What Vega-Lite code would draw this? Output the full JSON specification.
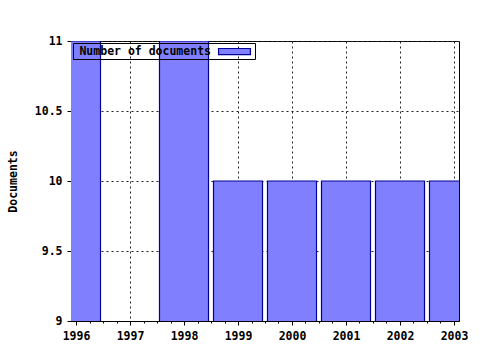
{
  "$schema": "https://vega.github.io/schema/vega-lite/v6.json",
  "width": 388,
  "height": 280,
  "autosize": {"type": "none"},
  "padding": {"left": 71, "top": 41, "right": 21, "bottom": 29},
  "background": "white",
  "data": {
    "values": [
      {"year": 1996, "documents": 11, "series": "Number of documents"},
      {"year": 1998, "documents": 11, "series": "Number of documents"},
      {"year": 1999, "documents": 10, "series": "Number of documents"},
      {"year": 2000, "documents": 10, "series": "Number of documents"},
      {"year": 2001, "documents": 10, "series": "Number of documents"},
      {"year": 2002, "documents": 10, "series": "Number of documents"},
      {"year": 2003, "documents": 10, "series": "Number of documents"}
    ]
  },
  "mark": {"type": "bar", "size": 49, "clip": true, "stroke": "#000099", "strokeWidth": 1.2, "fillOpacity": 1},
  "encoding": {
    "x": {
      "field": "year",
      "type": "quantitative",
      "scale": {"domain": [1996, 2003], "nice": false, "zero": false},
      "axis": {
        "values": [1996, 1996.25, 1996.5, 1996.75, 1997, 1997.25, 1997.5, 1997.75, 1998, 1998.25, 1998.5, 1998.75, 1999, 1999.25, 1999.5, 1999.75, 2000, 2000.25, 2000.5, 2000.75, 2001, 2001.25, 2001.5, 2001.75, 2002, 2002.25, 2002.5, 2002.75, 2003],
        "labelExpr": "datum.value % 1 === 0 ? format(datum.value, 'd') : ''",
        "tickSize": {"condition": {"test": "datum.value % 1 === 0", "value": 4}, "value": 2},
        "gridOpacity": {"condition": {"test": "datum.value % 1 === 0", "value": 1}, "value": 0},
        "labelFlush": false,
        "labelPadding": 5,
        "title": null
      }
    },
    "y": {
      "field": "documents",
      "type": "quantitative",
      "scale": {"domain": [9, 11], "nice": false, "zero": false},
      "axis": {"values": [9, 9.5, 10, 10.5, 11], "format": "~g", "labelFlush": false, "title": "Documents", "titlePadding": 16, "tickSize": 4, "labelPadding": 5}
    },
    "color": {
      "field": "series",
      "type": "nominal",
      "scale": {"range": ["#8080ff"]},
      "legend": {
        "title": null,
        "orient": "none",
        "legendX": 2,
        "legendY": 2,
        "strokeColor": "black",
        "padding": 2,
        "symbolType": "M-2.9,-0.55H2.9V0.55H-2.9Z",
        "symbolSize": 121,
        "symbolOffset": 153,
        "labelOffset": -30,
        "labelAlign": "right",
        "symbolStrokeColor": "#000099",
        "symbolStrokeWidth": 1.2,
        "symbolOpacity": 1
      }
    }
  },
  "config": {
    "view": {"stroke": "black", "strokeWidth": 1},
    "font": "DejaVu Sans Mono",
    "axis": {
      "labelFont": "DejaVu Sans Mono",
      "labelFontSize": 11.5,
      "labelFontWeight": "bold",
      "labelColor": "black",
      "titleFont": "DejaVu Sans Mono",
      "titleFontSize": 11.5,
      "titleFontWeight": "bold",
      "titleColor": "black",
      "domainColor": "black",
      "tickColor": "black",
      "grid": true,
      "gridColor": "#222222",
      "gridDash": [2, 3]
    },
    "legend": {
      "labelFont": "DejaVu Sans Mono",
      "labelFontSize": 11.5,
      "labelFontWeight": "bold",
      "labelColor": "black",
      "labelLimit": 400
    }
  }
}
